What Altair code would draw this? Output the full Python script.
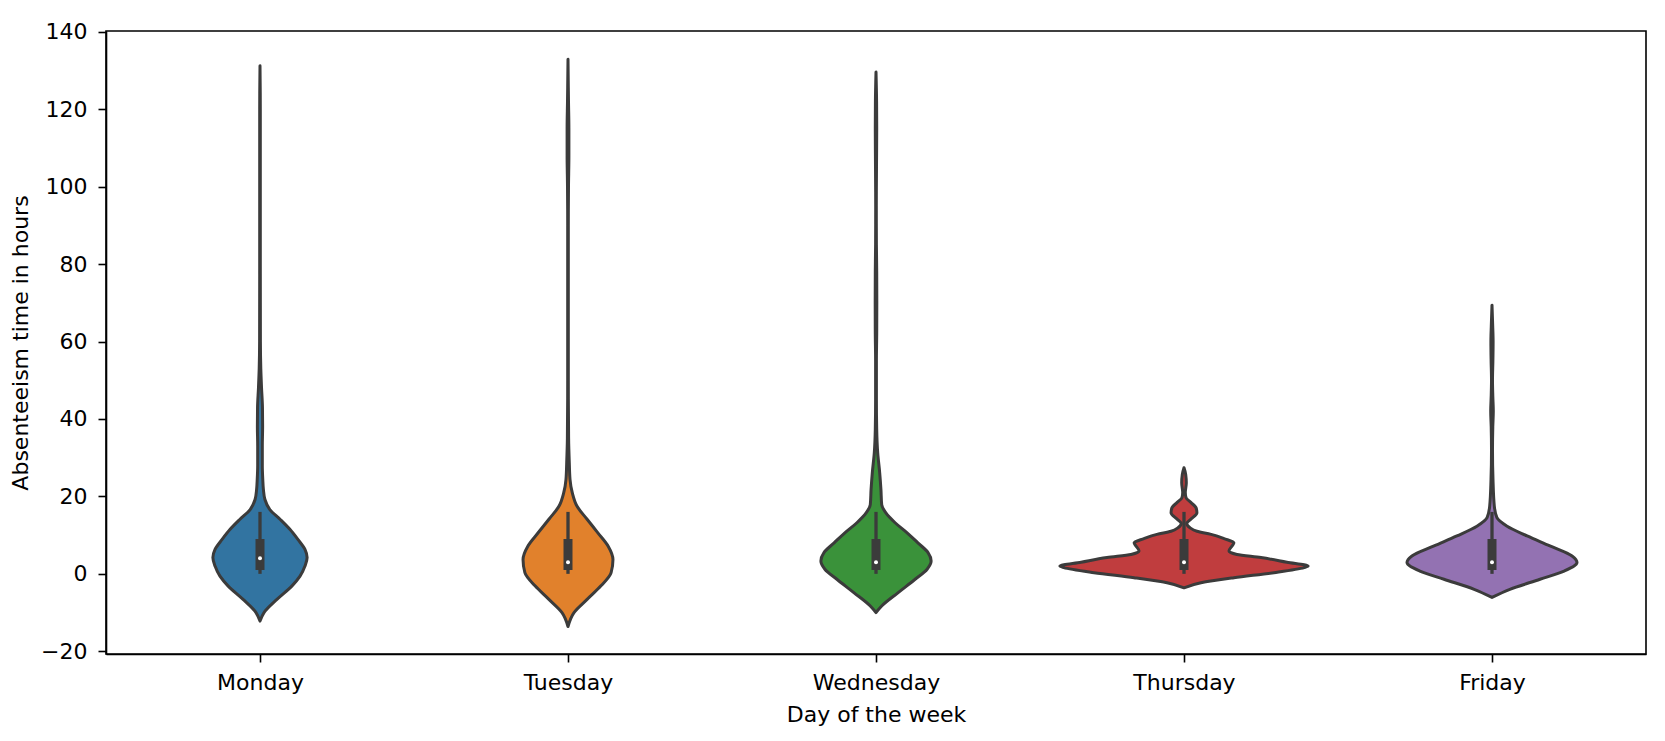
import altair as alt
import pandas as pd

DAYS = ["Monday", "Tuesday", "Wednesday", "Thursday", "Friday"]
COLORS = ["#3274a1", "#e1812c", "#3a923a", "#c03d3e", "#9372b2"]

# violin outlines: hours and half-width (percent of one category slot)
MON_HOURS = [-12.2, -10, -6.6, -3.1, -0.6, 2.0, 4.2, 6.3, 8.9, 11.5, 14.1, 16.6, 19.2, 21.8,
             24.4, 28, 33, 38, 43, 48, 53, 60, 80, 100, 120, 131.2]
MON_WIDTH = [0, 1.3, 5.5, 10.4, 13.0, 14.6, 15.3, 14.6, 12.3, 9.7, 6.5, 3.2, 1.6, 1.1,
             0.9, 0.75, 0.75, 0.85, 0.8, 0.5, 0.26, 0.13, 0.1, 0.1, 0.1, 0]

TUE_HOURS = [-13.6, -10, -6.6, -3.1, 0.3, 3.7, 7.2, 10.6, 14.1, 17.5, 20.9, 24.4, 28.7, 35,
             50, 70, 90, 100, 108, 115, 122, 132.9]
TUE_WIDTH = [0, 1.95, 6.2, 10.7, 14.0, 14.6, 13.0, 9.7, 6.2, 2.9, 1.4, 0.65, 0.42, 0.2,
             0.1, 0.1, 0.1, 0.16, 0.29, 0.29, 0.16, 0]

WED_HOURS = [-10, -8.3, -4.9, -1.4, 1.2, 3.3, 5.5, 8.0, 10.6, 13.2, 15.8, 17.9, 21.8, 26.1,
             31.3, 37.3, 45, 55, 62, 70, 78, 85, 95, 105, 115, 122, 129.6]
WED_WIDTH = [0, 1.85, 7.1, 12.7, 16.6, 17.9, 16.9, 13.6, 10.1, 6.2, 3.15, 1.85, 1.6, 1.2,
             0.55, 0.23, 0.13, 0.13, 0.23, 0.26, 0.23, 0.13, 0.1, 0.16, 0.23, 0.19, 0]

THU_HOURS = [-3.6, -2.3, -1.0, 0.3, 1.6, 2.0, 3.0, 4.2, 5.0, 5.9, 7.2, 8.0, 9.1, 10.2, 11.0,
             11.9, 13.0, 14.1, 15.8, 17.1, 18.4, 19.7, 21.0, 23.5, 25.7, 27.4]
THU_WIDTH = [0, 5.5, 16.2, 29.2, 39.0, 40.3, 33.4, 25.0, 17.2, 14.6, 15.6, 16.2, 13.0, 8.8, 4.2,
             1.95, 0.9, 2.2, 4.2, 3.9, 2.3, 0.65, 0.42, 0.75, 0.55, 0]

FRI_HOURS = [-6.1, -4.0, -1.4, 0.7, 2.9, 4.6, 7.2, 9.8, 12.3, 14.5, 17.5, 24.4, 32, 38, 42,
             46, 50, 55, 60, 64, 69.4]
FRI_WIDTH = [0, 5.8, 15.6, 23.4, 27.6, 26.0, 18.8, 11.4, 4.9, 1.6, 0.75, 0.32, 0.16, 0.26, 0.42,
             0.26, 0.16, 0.29, 0.36, 0.23, 0]

# inner box plot statistics
WHISK_LO = [0, 0, 0, 0, 0]
WHISK_HI = [16, 16, 16, 16, 16]
Q1 = [1, 1, 1, 1, 1]
Q3 = [9, 9, 9, 9, 9]
MEDIAN = [4, 3, 3, 3, 3]

Y_TICKS = [-20, 0, 20, 40, 60, 80, 100, 120, 140]

HOURS = [MON_HOURS, TUE_HOURS, WED_HOURS, THU_HOURS, FRI_HOURS]
WIDTHS = [MON_WIDTH, TUE_WIDTH, WED_WIDTH, THU_WIDTH, FRI_WIDTH]

rows = []
for i, (d, hs, ws) in enumerate(zip(DAYS, HOURS, WIDTHS)):
    for h, w in zip(hs, ws):
        rows.append({"day": d, "idx": i, "hours": h, "w": w})
vdf = pd.DataFrame(rows)

bdf = pd.DataFrame({"day": DAYS, "idx": list(range(len(DAYS))), "wlo": WHISK_LO,
                    "whi": WHISK_HI, "q1": Q1, "q3": Q3, "med": MEDIAN})

OUT = "#3b3b3b"
xscale = alt.Scale(domain=[-0.5, 4.5], nice=False, zero=False)
yscale = alt.Scale(domain=[-20.7, 140.2], nice=False, zero=False)

label_expr = "[" + ",".join("'%s'" % d for d in DAYS) + "][datum.value]"
xaxis = alt.Axis(values=[0, 1, 2, 3, 4], labelExpr=label_expr, title="Day of the week",
                 titleY=67, titleBaseline="alphabetic", labelBaseline="alphabetic",
                 labelPadding=27, tickSize=8, labelFlush=False, labelOverlap=False, grid=False)
yaxis = alt.Axis(values=Y_TICKS, title="Absenteeism time in hours", titleX=-78.5, titleY=311.5,
                 titleAngle=270, titleAlign="center", titleBaseline="alphabetic",
                 labelPadding=11, tickSize=8, labelBaseline="middle", grid=False,
                 labelExpr="replace(datum.label, '-', '\u2212')")

violin = alt.Chart(vdf).transform_calculate(
    lo="datum.idx - datum.w / 100", hi="datum.idx + datum.w / 100"
).mark_area(orient="horizontal", interpolate="monotone", stroke=OUT, strokeWidth=3,
            strokeJoin="round", fillOpacity=1).encode(
    y=alt.Y("hours:Q", scale=yscale, axis=yaxis),
    x=alt.X("lo:Q", scale=xscale, axis=xaxis, stack=False),
    x2="hi:Q",
    fill=alt.Fill("day:N", scale=alt.Scale(domain=DAYS, range=COLORS), legend=None),
    detail="day:N",
)

whisk = alt.Chart(bdf).mark_rule(color=OUT, strokeWidth=3.3).encode(
    x=alt.X("idx:Q", scale=xscale, axis=xaxis),
    y=alt.Y("wlo:Q", scale=yscale, axis=yaxis),
    y2="whi:Q",
)
boxr = alt.Chart(bdf).mark_rule(color=OUT, strokeWidth=9, strokeCap="butt").encode(
    x=alt.X("idx:Q", scale=xscale, axis=xaxis),
    y=alt.Y("q1:Q", scale=yscale, axis=yaxis),
    y2="q3:Q",
)
med = alt.Chart(bdf).mark_point(filled=True, color="white", size=16, opacity=1,
                                shape="circle").encode(
    x=alt.X("idx:Q", scale=xscale, axis=xaxis),
    y=alt.Y("med:Q", scale=yscale, axis=yaxis),
)

chart = alt.layer(violin, whisk, boxr, med).properties(
    width=1540, height=623,
    autosize=alt.AutoSizeParams(type="none"),
    padding={"left": 106, "top": 31, "right": 19, "bottom": 87},
    background="white",
).configure_view(
    stroke="black", strokeWidth=1.6
).configure_axis(
    labelFont="DejaVu Sans", titleFont="DejaVu Sans", labelFontSize=22, titleFontSize=22,
    titleFontWeight="normal", labelColor="black", titleColor="black",
    domainColor="black", tickColor="black", domainWidth=1.6, tickWidth=1.6,
)

chart.save("out.html", embed_options={"renderer": "svg", "actions": False})
